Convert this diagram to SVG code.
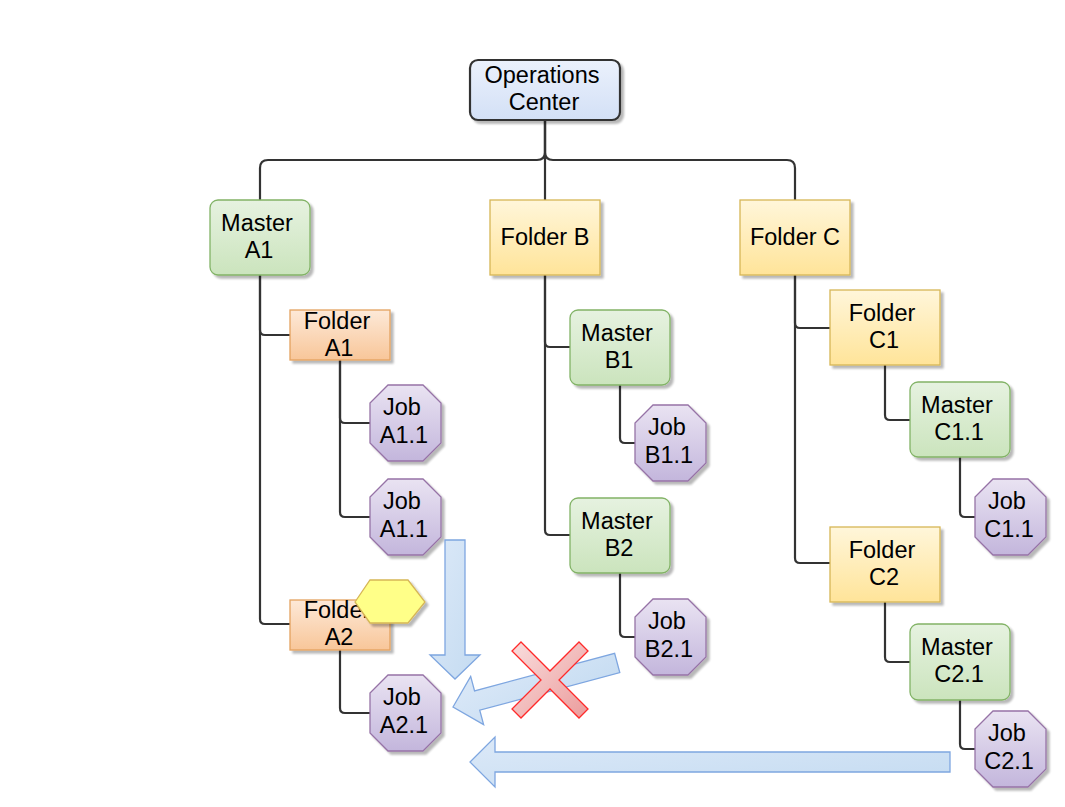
<svg xmlns="http://www.w3.org/2000/svg" xmlns:xlink="http://www.w3.org/1999/xlink" width="1065" height="807" viewBox="0 0 1065 807">
<defs>
<linearGradient id="gBlue" x1="0" y1="0" x2="0" y2="1"><stop offset="0" stop-color="#ebf1fc"/><stop offset="1" stop-color="#d3e0f6"/></linearGradient>
<linearGradient id="gGreen" x1="0" y1="0" x2="0" y2="1"><stop offset="0" stop-color="#e6f2e0"/><stop offset="1" stop-color="#cbe4bd"/></linearGradient>
<linearGradient id="gYellow" x1="0" y1="0" x2="0" y2="1"><stop offset="0" stop-color="#fff6da"/><stop offset="1" stop-color="#ffe499"/></linearGradient>
<linearGradient id="gOrange" x1="0" y1="0" x2="0" y2="1"><stop offset="0" stop-color="#fde9d8"/><stop offset="1" stop-color="#f8c699"/></linearGradient>
<linearGradient id="gPurple" x1="0" y1="0" x2="0" y2="1"><stop offset="0" stop-color="#e9e3f2"/><stop offset="1" stop-color="#c3b6dc"/></linearGradient>
<linearGradient id="gArrow" x1="0" y1="0" x2="1" y2="1"><stop offset="0" stop-color="#dce9f8"/><stop offset="1" stop-color="#c4dbf1"/></linearGradient>
<linearGradient id="gRed" x1="0" y1="0" x2="1" y2="1"><stop offset="0" stop-color="#f9dddd"/><stop offset="1" stop-color="#eb9c9c"/></linearGradient>
<filter id="sh" x="-20%" y="-20%" width="150%" height="150%">
<feGaussianBlur in="SourceAlpha" stdDeviation="1.2"/>
<feOffset dx="3" dy="3" result="o"/>
<feComponentTransfer><feFuncA type="linear" slope="0.28"/></feComponentTransfer>
<feMerge><feMergeNode/><feMergeNode in="SourceGraphic"/></feMerge>
</filter>
<polygon id="oct" points="18,0 53,0 71,18 71,58 53,76 18,76 0,58 0,18"/>
</defs>
<style>
text{font-family:"Liberation Sans",Arial,Helvetica,sans-serif;font-size:23.5px;fill:#000;text-anchor:middle}
.conn{fill:none;stroke:#333;stroke-width:2.2}
.ops{fill:url(#gBlue);stroke:#333;stroke-width:2.2;filter:url(#sh)}
.master{fill:url(#gGreen);stroke:#82b366;stroke-width:1.3;filter:url(#sh)}
.folder{fill:url(#gYellow);stroke:#d6b656;stroke-width:1.3;filter:url(#sh)}
.folderO{fill:url(#gOrange);stroke:#e4a25f;stroke-width:1.3;filter:url(#sh)}
.job{fill:url(#gPurple);stroke:#9673a6;stroke-width:1.3;filter:url(#sh)}
.arrow{fill:url(#gArrow);stroke:#7ea6e0;stroke-width:1.3}
.cross{fill:url(#gRed);stroke:#ff2a2a;stroke-width:1.3}
.hex{fill:#ffff88;stroke:#d6b656;stroke-width:1.3;filter:url(#sh)}
</style>
<rect width="1065" height="807" fill="#ffffff"/>

<g id="connectors">
<path class="conn" d="M545,120 V200"/>
<path class="conn" d="M545,120 V152 Q545,160 537,160 H268 Q260,160 260,168 V200"/>
<path class="conn" d="M545,120 V152 Q545,160 553,160 H787 Q795,160 795,168 V200"/>
<path class="conn" d="M260,275 V330 Q260,335 265,335 H290"/>
<path class="conn" d="M260,275 V619 Q260,624 265,624 H290"/>
<path class="conn" d="M340,360 V418 Q340,423 345,423 H370"/>
<path class="conn" d="M340,360 V512 Q340,517 345,517 H370"/>
<path class="conn" d="M340,650 V708 Q340,713 345,713 H370"/>
<path class="conn" d="M545,275 V342 Q545,347 550,347 H570"/>
<path class="conn" d="M545,275 V530 Q545,535 550,535 H570"/>
<path class="conn" d="M620,385 V438 Q620,443 625,443 H635"/>
<path class="conn" d="M620,573 V632 Q620,637 625,637 H635"/>
<path class="conn" d="M795,275 V323 Q795,328 800,328 H830"/>
<path class="conn" d="M795,275 V558 Q795,563 800,563 H830"/>
<path class="conn" d="M885,365 V415 Q885,420 890,420 H910"/>
<path class="conn" d="M960,457 V512 Q960,517 965,517 H975"/>
<path class="conn" d="M885,602 V657 Q885,662 890,662 H910"/>
<path class="conn" d="M960,700 V744 Q960,749 965,749 H975"/>
</g>

<g id="operations-center">
<rect class="ops" x="470" y="60" width="150" height="60" rx="8"/>
<text x="542" y="83">Operations</text>
<text x="544" y="110">Center</text>
</g>

<g id="master-a1">
<rect class="master" x="210" y="200" width="100" height="75" rx="8"/>
<text x="257" y="231">Master</text>
<text x="259" y="258">A1</text>
</g>
<g id="folder-b">
<rect class="folder" x="490" y="200" width="110" height="75"/>
<text x="545" y="245">Folder B</text>
</g>
<g id="folder-c">
<rect class="folder" x="740" y="200" width="110" height="75"/>
<text x="795" y="245">Folder C</text>
</g>

<g id="folder-a1">
<rect class="folderO" x="290" y="310" width="100" height="50"/>
<text x="337" y="329">Folder</text>
<text x="339" y="356">A1</text>
</g>
<g id="job-a1-1-a">
<use href="#oct" class="job" x="370" y="385"/>
<text x="402" y="415">Job</text>
<text x="404" y="443">A1.1</text>
</g>
<g id="job-a1-1-b">
<use href="#oct" class="job" x="370" y="479"/>
<text x="402" y="509">Job</text>
<text x="404" y="537">A1.1</text>
</g>
<g id="folder-a2">
<rect class="folderO" x="290" y="600" width="100" height="50"/>
<text x="337" y="618">Folder</text>
<text x="339" y="645">A2</text>
</g>
<g id="job-a2-1">
<use href="#oct" class="job" x="370" y="675"/>
<text x="402" y="705">Job</text>
<text x="404" y="733">A2.1</text>
</g>

<g id="master-b1">
<rect class="master" x="570" y="310" width="100" height="75" rx="8"/>
<text x="617" y="341">Master</text>
<text x="619" y="368">B1</text>
</g>
<g id="job-b1-1">
<use href="#oct" class="job" x="635" y="405"/>
<text x="667" y="435">Job</text>
<text x="669" y="463">B1.1</text>
</g>
<g id="master-b2">
<rect class="master" x="570" y="498" width="100" height="75" rx="8"/>
<text x="617" y="529">Master</text>
<text x="619" y="556">B2</text>
</g>
<g id="job-b2-1">
<use href="#oct" class="job" x="635" y="599"/>
<text x="667" y="629">Job</text>
<text x="669" y="657">B2.1</text>
</g>

<g id="folder-c1">
<rect class="folder" x="830" y="290" width="110" height="75"/>
<text x="882" y="321">Folder</text>
<text x="884" y="348">C1</text>
</g>
<g id="master-c1-1">
<rect class="master" x="910" y="382" width="100" height="75" rx="8"/>
<text x="957" y="413">Master</text>
<text x="959" y="440">C1.1</text>
</g>
<g id="job-c1-1">
<use href="#oct" class="job" x="975" y="479"/>
<text x="1007" y="509">Job</text>
<text x="1009" y="537">C1.1</text>
</g>
<g id="folder-c2">
<rect class="folder" x="830" y="527" width="110" height="75"/>
<text x="882" y="558">Folder</text>
<text x="884" y="585">C2</text>
</g>
<g id="master-c2-1">
<rect class="master" x="910" y="624" width="100" height="76" rx="8"/>
<text x="957" y="655">Master</text>
<text x="959" y="682">C2.1</text>
</g>
<g id="job-c2-1">
<use href="#oct" class="job" x="975" y="711"/>
<text x="1007" y="741">Job</text>
<text x="1009" y="769">C2.1</text>
</g>

<g id="hexagon">
<polygon class="hex" points="355,602 370,580 408,580 425,602 408,623 370,623"/>
</g>

<g id="arrow-down">
<polygon class="arrow" points="445,540 465,540 465,655 480,655 455,679 430,655 445,655"/>
</g>
<g id="arrow-diagonal">
<polygon class="arrow" transform="translate(453,707) rotate(-15)" points="0,0 25,-25 25,-10 170,-10 170,10 25,10 25,25"/>
</g>
<g id="cross">
<polygon class="cross" transform="translate(550,680)" points="-29,-38 0,-9 29,-38 38,-29 9,0 38,29 29,38 0,9 -29,38 -38,29 -9,0 -38,-29"/>
</g>
<g id="arrow-bottom">
<polygon class="arrow" points="950,752 950,772 495,772 495,787 470,762 495,737 495,752"/>
</g>
</svg>
